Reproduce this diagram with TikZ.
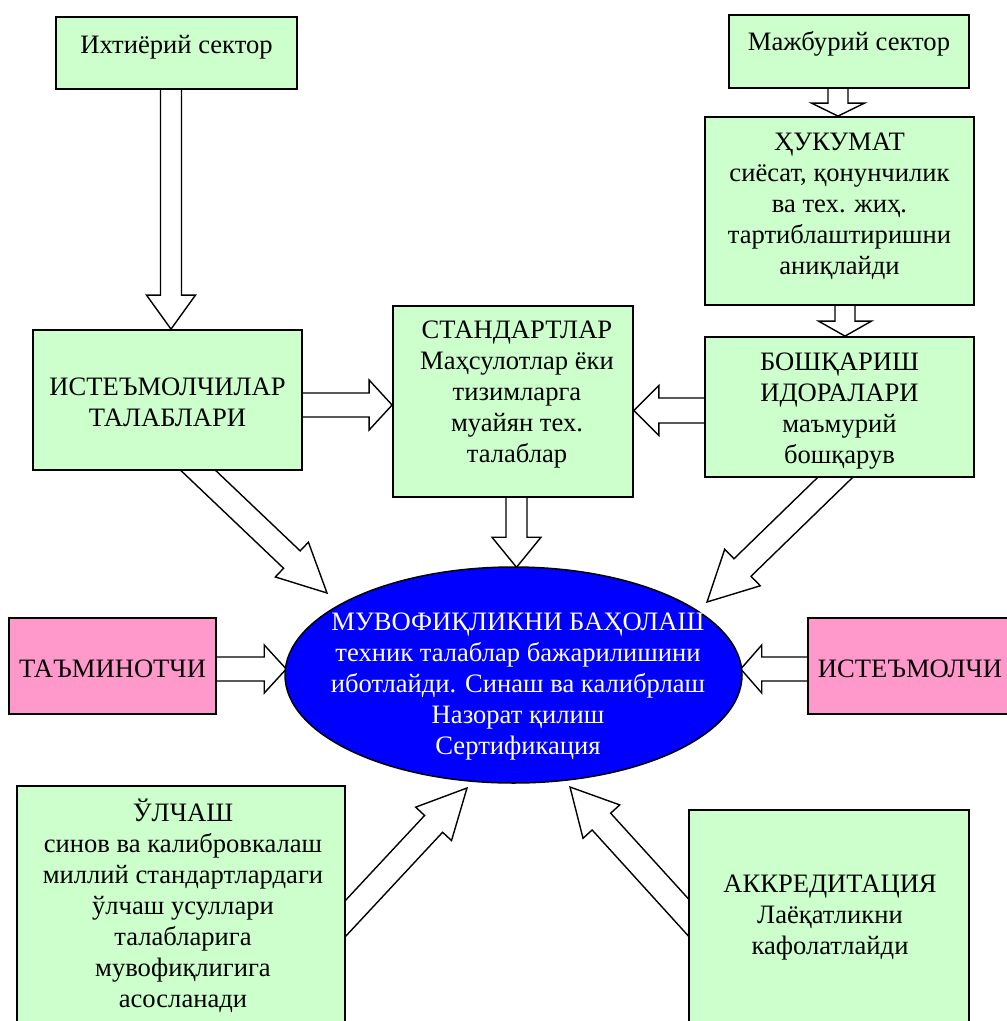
\documentclass[tikz,border=0pt]{standalone}
\usepackage{fontspec}
\setmainfont{Liberation Serif}
\usetikzlibrary{calc,shapes.geometric}
\definecolor{boxgreen}{HTML}{CCFFCC}
\definecolor{boxpink}{HTML}{FF99CC}
\definecolor{ellblue}{HTML}{0000FF}
\pgfdeclarelayer{bgwhite}
\pgfdeclarelayer{arrowlayer}
\pgfsetlayers{bgwhite,arrowlayer,main}
\newcommand\blkarrow[5]{%
  \coordinate (bah) at ($(#2)!#5pt!(#1)$);
  \draw[blkarr] ($(#1)!#3pt!90:(#2)$) -- ($(bah)!#3pt!90:(#2)$) -- ($(bah)!#4pt!90:(#2)$) -- (#2)
    -- ($(bah)!#4pt!-90:(#2)$) -- ($(bah)!#3pt!-90:(#2)$) -- ($(#1)!#3pt!-90:(#2)$) -- cycle;}
\tikzset{
  gbox/.style={draw=black, line width=1.8pt, fill=boxgreen, inner sep=0pt},
  pbox/.style={draw=black, line width=1.8pt, fill=boxpink, inner sep=0pt},
  txt/.style={font=\fontsize{26.6}{31}\selectfont, align=center, inner sep=0pt, text=black},
  blkarr/.style={draw=black, fill=white, line width=1.4pt, line join=miter},
}
\begin{document}
\begin{tikzpicture}[x=1pt,y=-1pt]
\useasboundingbox (0,0) rectangle (1007,1021);
\clip (0,0) rectangle (1007,1021);
\begin{pgfonlayer}{bgwhite}
\fill[white] (0,0) rectangle (1007,1021);
\end{pgfonlayer}
% boxes
\node[gbox, minimum width=241, minimum height=72] (ix) at (176.5,53) {};
\node[gbox, minimum width=240, minimum height=73] (mj) at (849,51.5) {};
\node[gbox, minimum width=269, minimum height=188] (hk) at (839.5,211) {};
\node[gbox, minimum width=269, minimum height=140] (bs) at (839.5,407) {};
\node[gbox, minimum width=269, minimum height=140] (it) at (167.5,400) {};
\node[gbox, minimum width=240, minimum height=191] (st) at (513,401.5) {};
\node[ellipse, draw=black, line width=1.5pt, fill=ellblue, minimum width=457, minimum height=216, inner sep=0pt] (el) at (513.5,675) {};
\node[pbox, minimum width=207, minimum height=96] (tm) at (112.5,666) {};
\node[pbox, minimum width=207, minimum height=96] (ic) at (911.5,666) {};
\node[gbox, minimum width=328, minimum height=254] (ul) at (181,913) {};
\node[gbox, minimum width=280, minimum height=230] (ak) at (829,925) {};
% texts
\node[txt] (ixt) at (176.5,47) {Ихтиёрий сектор};
\node[txt] (mjt) at (849,44) {Мажбурий сектор};
\node[txt] (hkt) at (839.5,206) {ҲУКУМАТ\\сиёсат, қонунчилик\\ва тех. жиҳ.\\тартиблаштиришни\\аниқлайди};
\node[txt] (bst) at (839.5,411) {БОШҚАРИШ\\ИДОРАЛАРИ\\маъмурий\\бошқарув};
\node[txt] (itt) at (167.5,402.5) {ИСТЕЪМОЛЧИЛАР\\ТАЛАБЛАРИ};
\node[txt] (stt) at (517,395) {СТАНДАРТЛАР\\Маҳсулотлар ёки\\тизимларга\\муайян тех.\\талаблар};
\node[txt, text=white] (elt) at (518,687) {МУВОФИҚЛИКНИ БАҲОЛАШ\\техник талаблар бажарилишини\\иботлайди. Синаш ва калибрлаш\\Назорат қилиш\\Сертификация};
\node[txt] (tmt) at (112.5,669) {ТАЪМИНОТЧИ};
\node[txt] (ict) at (910,669) {ИСТЕЪМОЛЧИ};
\node[txt] (ult) at (183,906) {ЎЛЧАШ\\синов ва калибровкалаш\\миллий стандартлардаги\\ўлчаш усуллари\\талабларига\\мувофиқлигига\\асосланади};
\node[txt] (akt) at (830,918) {АККРЕДИТАЦИЯ\\Лаёқатликни\\кафолатлайди};
% arrow end points
\coordinate (a1s) at ($(ix.south)+(-5.5,-9)$);
\coordinate (a1e) at ($(it.north)+(3.5,0)$);
\coordinate (a2s) at ($(mj.south)+(-11,-8)$);
\coordinate (a2e) at ($(hk.north)+(-1.5,0)$);
\coordinate (a3s) at ($(hk.south)+(5.5,-8)$);
\coordinate (a3e) at ($(bs.north)+(5.5,0)$);
\coordinate (a4s) at ($(it.east)+(-8,5)$);
\coordinate (a4e) at ($(st.west)+(0,3.5)$);
\coordinate (a5s) at ($(bs.west)+(8,3.5)$);
\coordinate (a5e) at ($(st.east)+(0,9)$);
\coordinate (a6s) at ($(st.south)+(3.5,-8)$);
\coordinate (a6e) at ($(el.north)+(3,1)$);
\coordinate (a7s) at ($(it.center)+(14.5,55)$);
\coordinate (a7e) at ($(el.center)+(-186.5,-82)$);
\coordinate (a8s) at ($(bs.center)+(10.5,56)$);
\coordinate (a8e) at ($(el.center)+(193.5,-73)$);
\coordinate (a9s) at ($(ul.center)+(136,36)$);
\coordinate (a9e) at ($(el.center)+(-46.5,113)$);
\coordinate (a10s) at ($(ak.center)+(-111,25)$);
\coordinate (a10e) at ($(el.center)+(56.5,112)$);
\coordinate (a11s) at ($(tm.east)+(-16,3)$);
\coordinate (a11e) at ($(el.west)+(2,-6)$);
\coordinate (a12s) at ($(ic.west)+(12,3)$);
\coordinate (a12e) at ($(el.east)+(-2,-6)$);
\begin{pgfonlayer}{arrowlayer}
\blkarrow{a1s}{a1e}{10.5}{24.5}{34}
\blkarrow{a2s}{a2e}{10}{26.5}{13}
\blkarrow{a3s}{a3e}{10}{26.5}{15}
\blkarrow{a4s}{a4e}{12}{25}{23}
\blkarrow{a5s}{a5e}{12.5}{25}{25}
\blkarrow{a6s}{a6e}{10.5}{24.5}{30}
\blkarrow{a7s}{a7e}{12}{24}{48.5}
\blkarrow{a8s}{a8e}{12.2}{25.5}{49.5}
\blkarrow{a9s}{a9e}{12.3}{24.5}{49}
\blkarrow{a10s}{a10e}{12.5}{24.8}{46.7}
\blkarrow{a11s}{a11e}{12}{24}{22}
\blkarrow{a12s}{a12e}{12}{24}{21}
\end{pgfonlayer}
\end{tikzpicture}
\end{document}
